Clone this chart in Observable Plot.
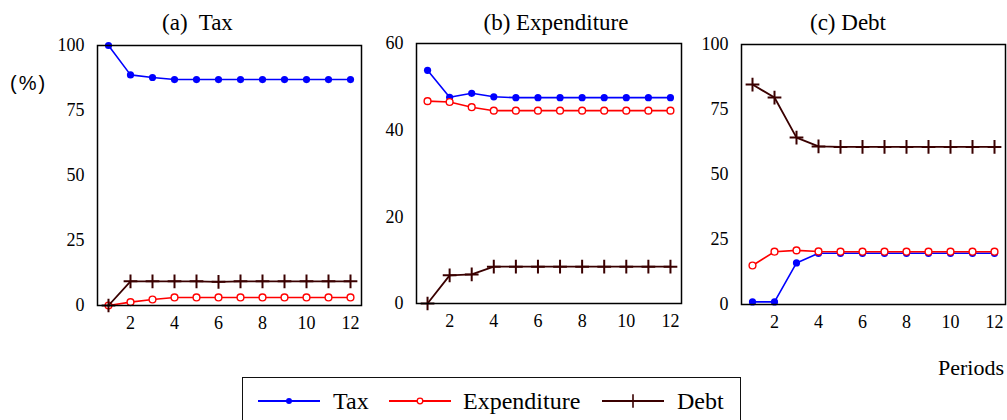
<!DOCTYPE html>
<html><head><meta charset="utf-8">
<script src="https://cdn.jsdelivr.net/npm/d3@7"></script>
<script src="https://cdn.jsdelivr.net/npm/@observablehq/plot@0.6"></script>
<style>
body{margin:0;background:#fff;}
#wrap{position:relative;width:1007px;height:420px;overflow:hidden;font-family:"Times New Roman",Times,"Liberation Serif",Tinos,"DejaVu Serif","Noto Serif",serif;}
#wrap > svg, #wrap > div{position:absolute;}
#wrap text{font-family:"Times New Roman",Times,"Liberation Serif",Tinos,"DejaVu Serif","Noto Serif",serif;}
#wrap text.sans{font-family:Arial,"Liberation Sans","DejaVu Sans",sans-serif;}
</style></head><body><div id="wrap"></div>
<script>
const periods = [1,2,3,4,5,6,7,8,9,10,11,12];
const xTicks = [2,4,6,8,10,12];
const seriesNames = ["Tax","Expenditure","Debt"];
const panelTitles = ["(a)  Tax","(b) Expenditure","(c) Debt"];

// (a) Tax
const taxA  = [100, 88.7, 87.7, 86.9, 86.9, 86.9, 86.9, 86.9, 86.9, 86.9, 86.9, 86.9];
const expA  = [0, 1.3, 2.3, 3.1, 3.1, 3.1, 3.1, 3.1, 3.1, 3.1, 3.1, 3.1];
const debtA = [0, 9.3, 9.3, 9.3, 9.3, 9.1, 9.3, 9.3, 9.3, 9.3, 9.3, 9.3];
const yTicksA = [0,25,50,75,100];

// (b) Expenditure
const taxB  = [53.8, 47.6, 48.5, 47.7, 47.5, 47.5, 47.5, 47.5, 47.5, 47.5, 47.5, 47.5];
const expB  = [46.7, 46.5, 45.3, 44.5, 44.5, 44.5, 44.5, 44.5, 44.5, 44.5, 44.5, 44.5];
const debtB = [0, 6.5, 6.7, 8.5, 8.5, 8.5, 8.5, 8.5, 8.5, 8.5, 8.5, 8.5];
const yTicksB = [0,20,40,60];

// (c) Debt
const taxC  = [1.0, 1.0, 16.0, 19.7, 19.7, 19.7, 19.7, 19.7, 19.7, 19.7, 19.7, 19.7];
const expC  = [15.0, 20.3, 20.8, 20.4, 20.3, 20.3, 20.3, 20.3, 20.3, 20.3, 20.3, 20.3];
const debtC = [84.6, 79.6, 64.2, 60.8, 60.6, 60.6, 60.6, 60.6, 60.6, 60.6, 60.6, 60.6];
const yTicksC = [0,25,50,75,100];

const colors = {Tax:"#0000ff", Expenditure:"#ff0000", Debt:"#3a0000"};
const serif = '"Times New Roman",Times,"Liberation Serif",Tinos,"DejaVu Serif","Noto Serif",serif';

const panels = [
  {series:[taxA,expA,debtA], yMax:100, yTicks:yTicksA, L:0,   W:370, ml:97, mr:9, mt:45, mb:35},
  {series:[taxB,expB,debtB], yMax:60,  yTicks:yTicksB, L:370, W:320, ml:46, mr:9, mt:43, mb:37},
  {series:[taxC,expC,debtC], yMax:100, yTicks:yTicksC, L:690, W:317, ml:51, mr:2, mt:44, mb:36}
];

const wrap = document.getElementById("wrap");

function rows(vals){ return periods.map((p,i)=>({p, v: vals[i]})); }

panels.forEach((pn) => {
  const [tax, exp, debt] = pn.series.map(rows);
  const svg = Plot.plot({
    width: pn.W, height: 340,
    marginLeft: pn.ml, marginRight: pn.mr, marginTop: pn.mt, marginBottom: pn.mb,
    style: {fontFamily: serif, fontSize: "18px", color: "black", background: "transparent", overflow: "visible"},
    x: {domain: [0.5, 12.5]},
    y: {domain: [0, pn.yMax]},
    marks: [
      Plot.axisY({ticks: pn.yTicks, tickSize: 0, tickPadding: 13, label: null, fontSize: 18}),
      Plot.axisX({ticks: xTicks, tickSize: 0, tickPadding: 11, label: null, fontSize: 18}),
      Plot.line(tax, {x:"p", y:"v", stroke: colors.Tax, strokeWidth: 1.6}),
      Plot.dot(tax, {x:"p", y:"v", r: 3.6, fill: colors.Tax, stroke: "none"}),
      Plot.line(exp, {x:"p", y:"v", stroke: colors.Expenditure, strokeWidth: 1.6}),
      Plot.dot(exp, {x:"p", y:"v", r: 3.4, fill: "white", stroke: colors.Expenditure, strokeWidth: 1.4}),
      Plot.line(debt, {x:"p", y:"v", stroke: colors.Debt, strokeWidth: 1.8}),
      Plot.dot(debt, {x:"p", y:"v", r: 4.5, symbol: "plus", stroke: colors.Debt, strokeWidth: 2}),
      Plot.frame({stroke: "black", strokeWidth: 1.5})
    ]
  });
  svg.style.left = pn.L + "px";
  svg.style.top = "0px";
  wrap.appendChild(svg);
});

// Overlay texts: titles, unit, axis label
const ov = d3.select(wrap).append("svg")
  .attr("width", 1007).attr("height", 420)
  .style("left","0px").style("top","0px").style("pointer-events","none");
const titleX = [197.5, 556, 848];
panelTitles.forEach((t,i)=>{
  ov.append("text").attr("x", titleX[i]).attr("y", 29.5)
    .attr("text-anchor","middle").attr("font-size", 23)
    .style("white-space","pre").text(t);
});
ov.append("text").attr("class","sans").attr("x", 10).attr("y", 90)
  .attr("font-size", 20).attr("letter-spacing", 2).text("(%)");
ov.append("text").attr("x", 1004).attr("y", 375)
  .attr("text-anchor","end").attr("font-size", 22).text("Periods");

// Legend
const leg = d3.select(wrap).append("div")
  .style("left","242px").style("top","377px").style("width","497px").style("height","60px")
  .style("border","1.5px solid #111").style("background","white");
const lsvg = leg.append("svg").attr("width", 497).attr("height", 60);
const legItems = [
  {name:"Tax", x0:15, text:90},
  {name:"Expenditure", x0:146, text:220},
  {name:"Debt", x0:359, text:434}
];
legItems.forEach(it=>{
  const c = colors[it.name], cy = 23, mid = it.x0 + 31;
  lsvg.append("line").attr("x1", it.x0).attr("x2", it.x0+62).attr("y1", cy).attr("y2", cy)
    .attr("stroke", c).attr("stroke-width", 1.8);
  if (it.name === "Tax") lsvg.append("circle").attr("cx", mid).attr("cy", cy).attr("r", 3).attr("fill", c);
  else if (it.name === "Expenditure") lsvg.append("circle").attr("cx", mid).attr("cy", cy).attr("r", 2.8).attr("fill","white").attr("stroke", c).attr("stroke-width", 1.3);
  else lsvg.append("path").attr("d", d3.symbol(d3.symbolPlus, 60)()).attr("transform", `translate(${mid},${cy})`).attr("stroke", c).attr("stroke-width", 1.6).attr("fill","none");
  lsvg.append("text").attr("x", it.text).attr("y", cy + 8).attr("font-size", 24).text(it.name);
});
</script></body></html>
